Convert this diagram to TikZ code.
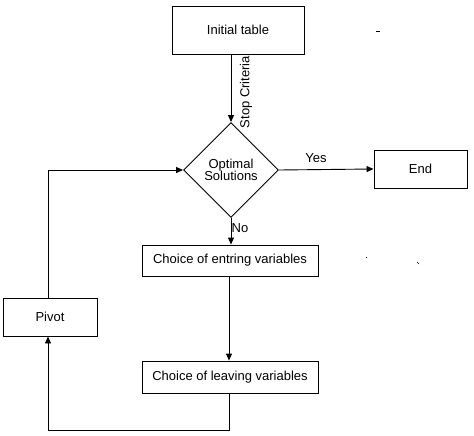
\documentclass[tikz,border=0pt]{standalone}
\usepackage{fontspec}
\setmainfont{Liberation Sans}
\usetikzlibrary{shapes.geometric,arrows.meta}
\begin{document}
\begin{tikzpicture}[x=1pt,y=-1pt,
  font=\fontsize{13}{14.5}\selectfont,
  box/.style={draw,line width=0.9pt,inner sep=0pt,align=center},
  dec/.style={draw,diamond,line width=0.9pt,inner sep=0pt,align=center,minimum width=95pt,minimum height=95pt},
  conn/.style={line width=0.9pt},
  arr/.style={conn,-{Triangle[length=7pt,width=6pt]}},
  lab/.style={inner sep=1pt}]
\useasboundingbox (0,0) rectangle (474,436);
\node[box,minimum width=132pt,minimum height=48pt] (init) at (238,30) {Initial table};
\node[dec] (dia) at (231,170) {Optimal\\[-2pt]Solutions};
\node[box,minimum width=93pt,minimum height=38pt] (end) at (420.5,169) {End};
\node[box,minimum width=176pt,minimum height=31pt] (ent) at (230,260.5) {Choice of entring variables};
\node[box,minimum width=176pt,minimum height=32pt] (lea) at (230,377) {Choice of leaving variables};
\node[box,minimum width=94pt,minimum height=38pt] (piv) at (50,317) {Pivot};
\node[lab,rotate=90] (stop) at (246,92) {Stop Criteria};
\node[lab] (yes) at (316,158) {Yes};
\node[lab] (no) at (240,228) {No};
\coordinate (c1) at (229,430);
\coordinate (c2) at (48,430);
\coordinate (c3) at (48,170);
\draw[arr] (init.south -| dia.north) -- (dia.north);
\draw[arr] (dia.east) -- (end.west);
\draw[arr] (dia.south) -- (ent.north -| dia.south);
\draw[arr] (ent.south -| c1) -- (lea.north -| c1);
\draw[conn] (lea.south -| c1) -- (c1) -- (c2);
\draw[arr] (c2) -- (piv.south -| c2);
\draw[conn] (piv.north -| c3) -- (c3);
\draw[arr] (c3) -- (dia.west);
\draw[line width=0.6pt] (376,31) -- (380,31);
\draw[line width=0.6pt] (366,257) -- (367,257);
\draw[line width=0.6pt] (417,262) -- (419,264);
\end{tikzpicture}
\end{document}
